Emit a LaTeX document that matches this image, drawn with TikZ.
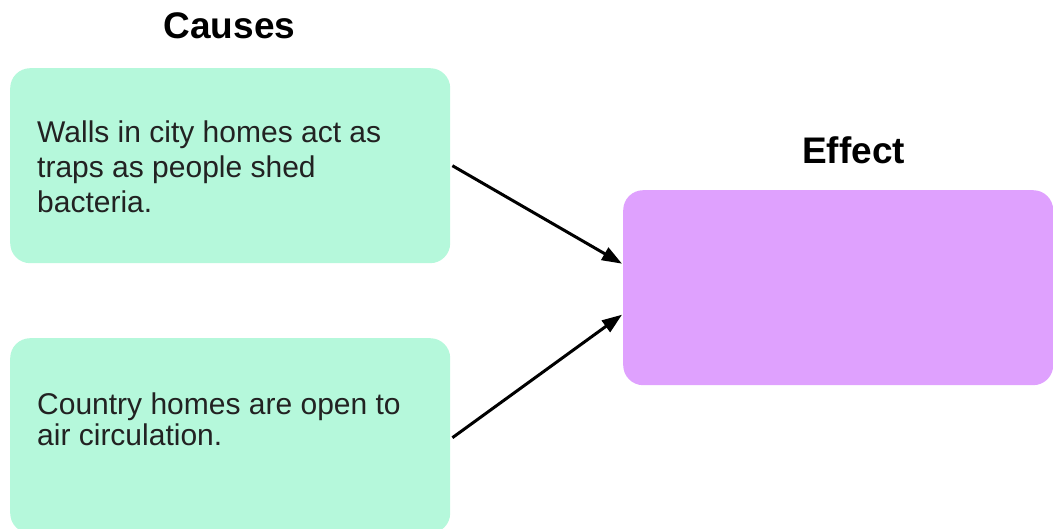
\documentclass[tikz,border=0pt]{standalone}
\usepackage{fontspec}
\setmainfont{Liberation Sans}
\usetikzlibrary{arrows.meta}
\definecolor{mint}{HTML}{B5F8DB}
\definecolor{lilac}{HTML}{DFA1FE}
\definecolor{bodytext}{HTML}{222222}
\tikzset{
  box/.style={draw=none, rounded corners=20pt, inner sep=0pt, anchor=north west},
  causebox/.style={box, fill=mint, minimum width=440pt},
  effectbox/.style={box, fill=lilac, minimum width=430pt, minimum height=195pt},
  body/.style={font=\fontsize{30pt}{35pt}\selectfont, text=bodytext, align=left, anchor=base west, inner sep=0pt},
  heading/.style={font=\fontsize{37pt}{40pt}\selectfont\bfseries, text=black, anchor=base, inner sep=0pt},
  link/.style={line width=3pt, -{Triangle[length=20pt,width=14pt]}, black}
}
\begin{document}
\begin{tikzpicture}[x=1pt,y=-1pt]
  \useasboundingbox (0,0) rectangle (1053,529);
  \node[heading] (causes) at (229.5,39) {Causes};
  \node[heading] (effect) at (853.5,164) {Effect};
  \node[causebox, minimum height=195pt] (c1) at (10,68) {};
  \node[causebox, minimum height=195pt] (c2) at (10,338) {};
  \node[effectbox] (eff) at (623,190) {};
  \node[body] (t1) at (37,213) {Walls in city homes act as\\traps as people shed\\bacteria.};
  \node[body, font=\fontsize{30pt}{31pt}\selectfont] (t2) at (37,446) {Country homes are open to\\air circulation.};
  \draw[link] ([yshift=0pt,xshift=2pt]c1.east) -- ([yshift=24pt,xshift=-1pt]eff.west);
  \draw[link] ([yshift=-2pt,xshift=2pt]c2.east) -- ([yshift=-27pt,xshift=-1pt]eff.west);
\end{tikzpicture}
\end{document}
